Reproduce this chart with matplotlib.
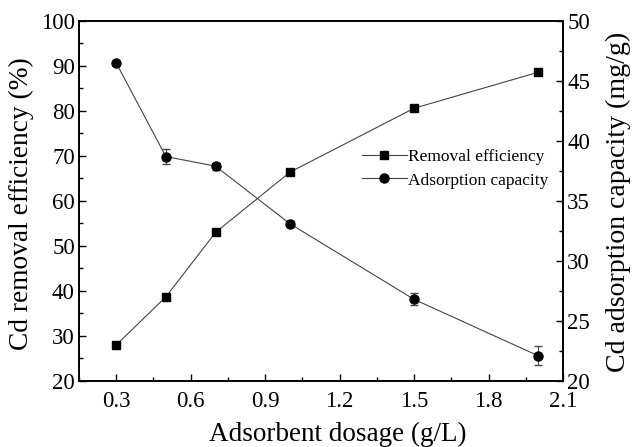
import numpy as np
import matplotlib.pyplot as plt
from matplotlib.ticker import MultipleLocator

plt.rcParams['font.family'] = ['Liberation Serif', 'DejaVu Serif']

dosage = [0.3, 0.5, 0.7, 1.0, 1.5, 2.0]
removal = [28.0, 38.7, 53.0, 66.4, 80.6, 88.6]
removal_err = [0.2, 0.3, 0.3, 0.3, 0.3, 0.4]
capacity = [46.5, 38.7, 37.9, 33.1, 26.8, 22.1]
capacity_err = [0.2, 0.6, 0.3, 0.2, 0.5, 0.8]

fig = plt.figure(figsize=(6.34, 4.47), dpi=100)
ax = fig.add_axes([0.1246, 0.1477, 0.7634, 0.8054])
ax2 = ax.twinx()

l1 = ax.errorbar(dosage, removal, yerr=removal_err, color='black', marker='s', ms=5.5,
                 lw=0.8, ecolor='#444444', elinewidth=0.8, capsize=3,
                 label='Removal efficiency')
l2 = ax2.errorbar(dosage, capacity, yerr=capacity_err, color='black', marker='o', ms=6.5,
                  lw=0.8, ecolor='#444444', elinewidth=0.8, capsize=3,
                  label='Adsorption capacity')
for ln in (l1.lines[0], l2.lines[0]):
    ln.set_color('#444444')
    ln.set_markerfacecolor('black')
    ln.set_markeredgecolor('black')

ax.set_xlim(0.15, 2.1)
ax.set_ylim(20, 100)
ax2.set_ylim(20, 50)
ax.xaxis.set_minor_locator(MultipleLocator(0.15))
ax.yaxis.set_major_locator(MultipleLocator(10))
ax.yaxis.set_minor_locator(MultipleLocator(5))
ax2.yaxis.set_major_locator(MultipleLocator(5))
ax2.yaxis.set_minor_locator(MultipleLocator(2.5))
ax.set_xticks(np.arange(0.3, 2.11, 0.3))
ax.set_xticklabels(['0.3', '0.6', '0.9', '1.2', '1.5', '1.8', '2.1'])

ax.tick_params(axis='both', which='both', direction='in', labelsize=16.5, top=False)
ax.tick_params(which='major', length=5, width=1)
ax.tick_params(which='minor', length=3, width=1)
ax2.tick_params(axis='y', which='both', direction='in', labelsize=16.5, pad=3)
ax2.tick_params(which='major', length=5, width=1)
ax2.tick_params(which='minor', length=3, width=1)
ax.tick_params(axis='x', pad=7)
ax.tick_params(axis='y', pad=3)
for a in (ax, ax2):
    for s in a.spines.values():
        s.set_linewidth(1.2)

ax.set_xlabel('Adsorbent dosage (g/L)', fontsize=19.5)
ax.set_ylabel('Cd removal efficiency (%)', fontsize=19.7)
ax2.set_ylabel('Cd adsorption capacity (mg/g)', fontsize=20.1)
ax.xaxis.set_label_coords(0.535, -0.113)
ax.yaxis.set_label_coords(-0.094, 0.492)
ax2.yaxis.set_label_coords(1.088, 0.497)

ax.legend([l1.lines[0], l2.lines[0]], ['Removal efficiency', 'Adsorption capacity'],
          loc='upper left', bbox_to_anchor=(0.566, 0.67), frameon=False, fontsize=12.5,
          handlelength=2.6, handletextpad=0.1, labelspacing=0.45, borderpad=0)

fig.savefig('out.png', dpi=100)
